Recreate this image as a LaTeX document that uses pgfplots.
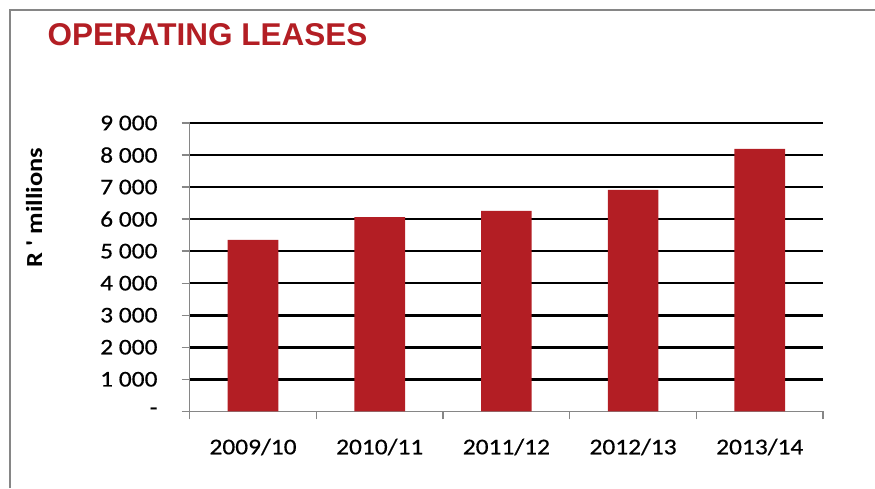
\documentclass[border=0pt]{standalone}
\usepackage{fontspec}
\setmainfont[FakeStretch=1.13, FakeBold=0.5]{Carlito}
\newfontfamily\titlefont{Liberation Sans}
\newfontfamily\labfont[FakeStretch=1.15]{Carlito}
\usepackage{pgfplots}
\pgfplotsset{compat=1.18}
\definecolor{barred}{RGB}{179,30,36}
\definecolor{axgray}{RGB}{134,134,134}
\begin{document}
\begin{tikzpicture}
\useasboundingbox (0pt,0pt) rectangle (875pt,488pt);
\draw[axgray, line width=1.5pt] (10pt,0pt) -- (10pt,478pt) -- (875pt,478pt);
\node[anchor=base west, inner sep=0pt, text=barred] at (47.5pt,442.3pt) {\titlefont\bfseries\fontsize{31.5}{36}\selectfont OPERATING LEASES};
\begin{axis}[
  at={(189.7pt,76.7pt)}, anchor=south west,
  scale only axis, width=633.4pt, height=288.3pt,
  xmin=-0.5, xmax=4.5, ymin=0, ymax=9000,
  axis lines*=left,
  axis line style={axgray, line width=1.3pt},
  tick align=outside,
  major tick length=8pt,
  tick style={axgray, line width=1.3pt},
  xtick={-0.5,0.5,1.5,2.5,3.5,4.5},
  xticklabels={,,,,,},
  extra x ticks={0,1,2,3,4},
  extra x tick labels={2009/10,2010/11,2011/12,2012/13,2013/14},
  extra x tick style={major tick length=0pt, tick style={draw=none}},
  ytick={1000,2000,3000,4000,5000,6000,7000,8000,9000},
  yticklabels={1 000,2 000,3 000,4 000,5 000,6 000,7 000,8 000,9 000},
  extra y ticks={0},
  extra y tick labels={-\hspace{11.5pt}},
  extra y tick style={grid=none},
  ymajorgrids,
  major grid style={black, line width=2.6pt},
  yticklabel style={anchor=east, inner sep=0pt, xshift=-24pt, font=\fontsize{22.5}{27}\selectfont},
  xticklabel style={anchor=base, inner sep=0pt, yshift=-43pt, font=\fontsize{22.5}{27}\selectfont},
  ylabel={R ' millions},
  ylabel style={at={(axis description cs:-0.2456,0.7069)}, anchor=center, font=\labfont\bfseries\fontsize{23}{27}\selectfont},
]
\addplot[ybar, bar width=50.6pt, fill=barred, draw=none] coordinates {(0,5350) (1,6060) (2,6260) (3,6910) (4,8190)};
\end{axis}
\end{tikzpicture}
\end{document}
